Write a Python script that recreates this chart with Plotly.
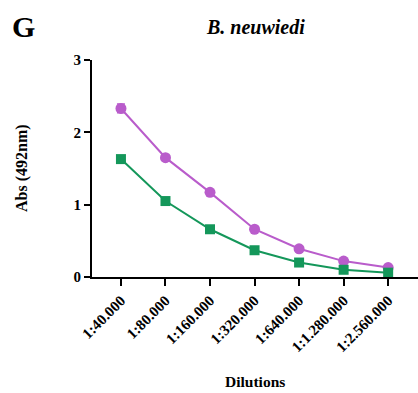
import plotly.graph_objects as go

dilutions = ["1:40.000", "1:80.000", "1:160.000", "1:320.000", "1:640.000", "1:1.280.000", "1:2.560.000"]
purple_vals = [2.33, 1.65, 1.17, 0.66, 0.39, 0.22, 0.13]
purple_err = [0.06, 0.03, 0.03, 0.02, 0.02, 0.01, 0.01]
green_vals = [1.63, 1.05, 0.66, 0.37, 0.20, 0.10, 0.06]
green_err = [0.03, 0.02, 0.02, 0.01, 0.01, 0.01, 0.01]

x = list(range(len(dilutions)))
font_family = "Liberation Serif, Times New Roman, serif"

fig = go.Figure()
fig.add_trace(go.Scatter(
    x=x, y=purple_vals, mode="lines+markers",
    line=dict(color="#B95CCB", width=2),
    marker=dict(symbol="circle", size=11, color="#B95CCB"),
    error_y=dict(type="data", array=purple_err, color="#B95CCB", thickness=1.5, width=4),
    cliponaxis=False, showlegend=False))
fig.add_trace(go.Scatter(
    x=x, y=green_vals, mode="lines+markers",
    line=dict(color="#14975A", width=2),
    marker=dict(symbol="square", size=10, color="#14975A"),
    error_y=dict(type="data", array=green_err, color="#14975A", thickness=1.5, width=4),
    cliponaxis=False, showlegend=False))

fig.update_layout(
    width=418, height=393,
    margin=dict(l=92, r=0, t=60, b=116),
    paper_bgcolor="white", plot_bgcolor="white",
    font=dict(family=font_family, color="black"),
    xaxis=dict(
        range=[-0.65, 6.67], tickvals=x, ticktext=["<b>%s</b>" % d for d in dilutions],
        tickangle=-45, showline=True, linecolor="black", linewidth=2,
        ticks="outside", ticklen=7, tickwidth=2, tickcolor="black",
        showgrid=False, zeroline=False, tickfont=dict(size=15, family=font_family),
    ),
    yaxis=dict(
        range=[0, 3], tickvals=[0, 1, 2, 3], ticktext=["<b>0</b>", "<b>1</b>", "<b>2</b>", "<b>3</b>"],
        showline=True, linecolor="black", linewidth=2,
        ticks="outside", ticklen=6, tickwidth=2, tickcolor="black",
        showgrid=False, zeroline=False, tickfont=dict(size=15, family=font_family),
    ),
    annotations=[
        dict(text="<b>G</b>", x=10, y=27, xref="paper", yref="paper", showarrow=False,
             font=dict(size=30, family=font_family), xanchor="left", yanchor="middle"),
        dict(text="<b><i>B. neuwiedi</i></b>", x=255, y=27, showarrow=False,
             font=dict(size=20, family=font_family), xanchor="center", yanchor="middle"),
        dict(text="<b>Abs (492nm)</b>", x=22, y=168, showarrow=False, textangle=-90,
             font=dict(size=16, family=font_family), xanchor="center", yanchor="middle"),
        dict(text="<b>Dilutions</b>", x=255, y=381, showarrow=False,
             font=dict(size=15.5, family=font_family), xanchor="center", yanchor="middle"),
    ],
)

# convert pixel positions for annotations into paper coords
W, H = 418, 393
l, r, t, b = 92, 0, 60, 116
pw, ph = W - l - r, H - t - b
for a in fig.layout.annotations:
    px, py = a.x, a.y
    a.xref = "paper"; a.yref = "paper"
    a.x = (px - l) / pw
    a.y = 1 - (py - t) / ph

fig.write_html("out.html")
